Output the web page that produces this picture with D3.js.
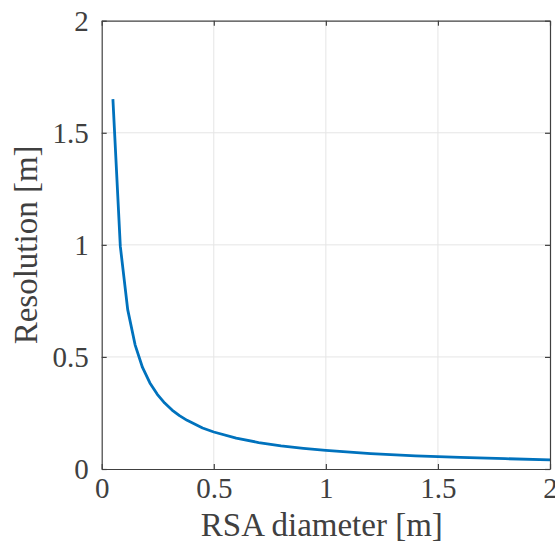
<!DOCTYPE html>
<html lang="en">
<head>
  <meta charset="UTF-8">
  <title>Resolution vs RSA diameter</title>
  <script src="https://cdn.jsdelivr.net/npm/d3@7"></script>
  <style>
  body{
    margin: 0;
    background: #fff;
  }
  .tick text{
    font-family: 'Liberation Serif', 'DejaVu Serif', serif;
    font-size: 29px;
    fill: #404040;
  }
  .etiqueta{
    font-family: 'Liberation Serif', 'DejaVu Serif', serif;
    font-size: 33px;
    fill: #404040;
  }
</style>
</head>
<body>
  <div id="grafico"></div>

  <script>
    // datos
    var diametro = [0.050, 0.083, 0.116, 0.149, 0.182, 0.215, 0.248, 0.281, 0.314, 0.347,
                    0.381, 0.45, 0.50, 0.60, 0.70, 0.80, 0.90, 1.00, 1.20, 1.40, 1.60, 1.80, 2.00];
    var resolucion = [1.650, 0.994, 0.711, 0.554, 0.453, 0.384, 0.333, 0.294, 0.263, 0.238,
                      0.217, 0.183, 0.165, 0.138, 0.118, 0.103, 0.092, 0.083, 0.069, 0.059, 0.052, 0.046, 0.041];
    var ticksX = [0, 0.5, 1, 1.5, 2];
    var ticksY = [0, 0.5, 1, 1.5, 2];

    var w = 555;
    var h = 552;
    var izq = 101.7, der = 550, arriba = 20.7, abajo = 469;

    var svg = d3.select("#grafico")
      .append("svg")
      .attr("width", w)
      .attr("height", h);

    var xScale = d3.scaleLinear().domain([0, 2]).range([izq, der]);
    var yScale = d3.scaleLinear().domain([0, 2]).range([abajo, arriba]);

    //Rejilla
    svg.append("g").selectAll("line")
      .data(ticksX.slice(1, -1))
      .enter().append("line")
      .attr("x1", function(d){ return xScale(d); })
      .attr("x2", function(d){ return xScale(d); })
      .attr("y1", arriba).attr("y2", abajo)
      .attr("stroke", "#e6e6e6").attr("stroke-width", 1);
    svg.append("g").selectAll("line")
      .data(ticksY.slice(1, -1))
      .enter().append("line")
      .attr("y1", function(d){ return yScale(d); })
      .attr("y2", function(d){ return yScale(d); })
      .attr("x1", izq).attr("x2", der)
      .attr("stroke", "#e6e6e6").attr("stroke-width", 1);

    //Curva (tramos rectos, como en el original)
    var linea = d3.line()
      .x(function(d, i){ return xScale(diametro[i]); })
      .y(function(d){ return yScale(d); });

    svg.append("path")
      .datum(resolucion)
      .attr("d", linea)
      .attr("fill", "none")
      .attr("stroke", "#0072BD")
      .attr("stroke-width", 2.8)
      .attr("stroke-linejoin", "round");

    //Ejes
    var ejeX = svg.append("g")
      .attr("transform", "translate(0," + abajo + ")")
      .call(d3.axisBottom(xScale).tickValues(ticksX).tickSizeInner(-5).tickSizeOuter(0).tickPadding(13)
        .tickFormat(function(d){ return d; }));
    var ejeXsup = svg.append("g")
      .attr("transform", "translate(0," + arriba + ")")
      .call(d3.axisTop(xScale).tickValues(ticksX).tickSizeInner(-5).tickSizeOuter(0).tickFormat(""));
    var ejeY = svg.append("g")
      .attr("transform", "translate(" + izq + ",0)")
      .call(d3.axisLeft(yScale).tickValues(ticksY).tickSizeInner(-5).tickSizeOuter(0).tickPadding(13)
        .tickFormat(function(d){ return d; }));
    var ejeYder = svg.append("g")
      .attr("transform", "translate(" + der + ",0)")
      .call(d3.axisRight(yScale).tickValues(ticksY).tickSizeInner(-5).tickSizeOuter(0).tickFormat(""));

    svg.selectAll(".domain, .tick line")
      .attr("stroke", "#404040")
      .attr("stroke-width", 1.2);

    ejeX.selectAll(".tick text").attr("dy", "0.55em");
    ejeY.selectAll(".tick text").attr("dy", "0.34em");

    //Etiquetas
    svg.append("text")
      .classed("etiqueta", true)
      .attr("x", (izq + der) / 2 - 4)
      .attr("y", 536)
      .attr("text-anchor", "middle")
      .text("RSA diameter [m]");

    svg.append("text")
      .classed("etiqueta", true)
      .attr("transform", "translate(37," + ((arriba + abajo) / 2) + ") rotate(-90)")
      .attr("text-anchor", "middle")
      .text("Resolution [m]");
  </script>
</body>
</html>
